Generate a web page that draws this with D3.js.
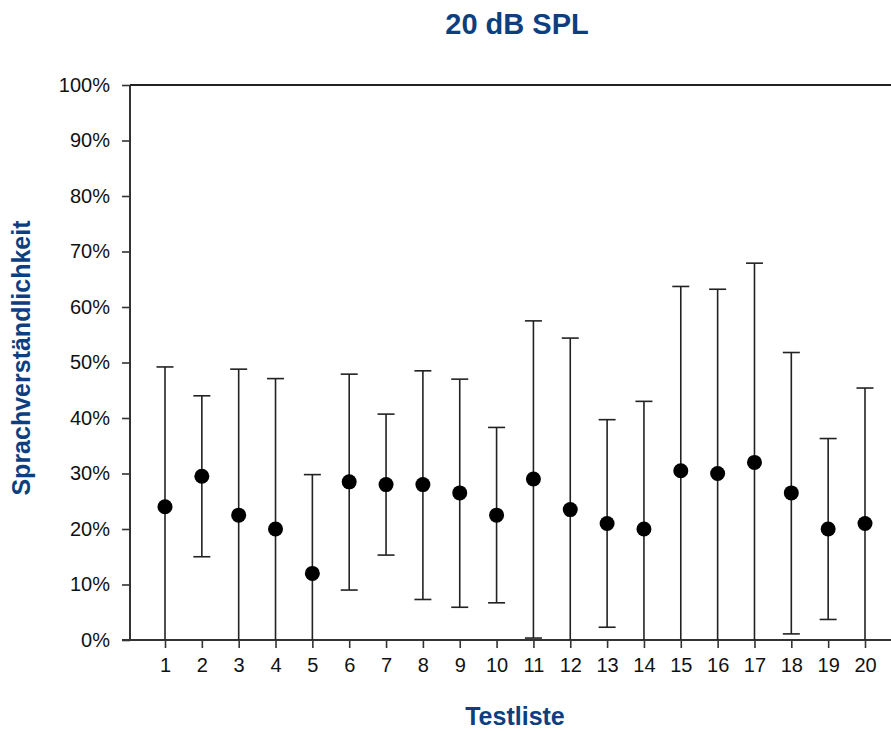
<!DOCTYPE html>
<html>
<head>
<meta charset="utf-8">
<script src="https://cdn.jsdelivr.net/npm/d3@7"></script>
<style>
  body { margin: 0; background: #fff; }
  svg { display: block; }
</style>
</head>
<body>
<div id="chart"></div>
<script>
// Testlisten 1..20, Mittelwert mit Fehlerbalken (untere / obere Grenze), in %
var lists = [1, 2, 3, 4, 5, 6, 7, 8, 9, 10, 11, 12, 13, 14, 15, 16, 17, 18, 19, 20];
var means = [24, 29.5, 22.5, 20, 12, 28.5, 28, 28, 26.5, 22.5, 29, 23.5, 21, 20, 30.5, 30, 32, 26.5, 20, 21];
var upper = [49.2, 44, 48.8, 47.1, 29.8, 47.9, 40.7, 48.5, 47, 38.3, 57.5, 54.4, 39.7, 43, 63.7, 63.2, 67.9, 51.8, 36.3, 45.4];
var lower = [0, 15, 0, 0, 0, 9, 15.3, 7.3, 5.9, 6.7, 0.35, 0, 2.3, 0, 0, 0, 0, 1.1, 3.7, 0];
var yTicks = [0, 10, 20, 30, 40, 50, 60, 70, 80, 90, 100];

var W = 891, H = 731;
var mLeft = 130, mTop = 85, mBottom = 640, mRight = 891;
var blue = "#0d3f80";

var svg = d3.select("#chart").append("svg")
    .attr("width", W)
    .attr("height", H)
    .style("font-family", "Liberation Sans, Arial, sans-serif");

var x = d3.scaleLinear().domain([1, 20]).range([165, 865]);
var y = d3.scaleLinear().domain([0, 100]).range([mBottom, mTop]);

var data = lists.map(function(d, i) {
  return { list: d, mean: means[i], lo: lower[i], hi: upper[i] };
});

// y axis
var yAxis = svg.append("g")
    .attr("transform", "translate(" + mLeft + ",0)")
    .call(d3.axisLeft(y).tickValues(yTicks).tickSize(8).tickPadding(12)
      .tickFormat(function(d) { return d + "%"; }));
yAxis.select(".domain").remove();
yAxis.selectAll("line").attr("stroke", "#333").attr("stroke-width", 1.6);
yAxis.selectAll("text").attr("font-size", 20).attr("fill", "#111");

// x axis
var xAxis = svg.append("g")
    .attr("transform", "translate(0," + mBottom + ")")
    .call(d3.axisBottom(x).tickValues(lists).tickSize(8).tickPadding(10)
      .tickFormat(d3.format("d")));
xAxis.select(".domain").remove();
xAxis.selectAll("line").attr("stroke", "#333").attr("stroke-width", 1.6);
xAxis.selectAll("text").attr("font-size", 20).attr("fill", "#111");

// frame lines
svg.append("line").attr("x1", mLeft).attr("x2", mLeft).attr("y1", mTop).attr("y2", mBottom)
    .attr("stroke", "#333").attr("stroke-width", 2);
svg.append("line").attr("x1", mLeft - 8).attr("x2", mRight).attr("y1", mBottom).attr("y2", mBottom)
    .attr("stroke", "#333").attr("stroke-width", 2);
svg.append("line").attr("x1", mLeft).attr("x2", mRight).attr("y1", mTop).attr("y2", mTop)
    .attr("stroke", "#222").attr("stroke-width", 2);

// error bars
var bars = svg.append("g").selectAll("g")
    .data(data)
    .enter()
    .append("g");

bars.append("line")
    .attr("x1", function(d) { return x(d.list); })
    .attr("x2", function(d) { return x(d.list); })
    .attr("y1", function(d) { return y(d.lo); })
    .attr("y2", function(d) { return y(d.hi); })
    .attr("stroke", "#222")
    .attr("stroke-width", 1.6);

bars.append("line")
    .attr("x1", function(d) { return x(d.list) - 8.5; })
    .attr("x2", function(d) { return x(d.list) + 8.5; })
    .attr("y1", function(d) { return y(d.hi); })
    .attr("y2", function(d) { return y(d.hi); })
    .attr("stroke", "#222")
    .attr("stroke-width", 1.6);

bars.filter(function(d) { return d.lo > 0; })
    .append("line")
    .attr("x1", function(d) { return x(d.list) - 8.5; })
    .attr("x2", function(d) { return x(d.list) + 8.5; })
    .attr("y1", function(d) { return y(d.lo); })
    .attr("y2", function(d) { return y(d.lo); })
    .attr("stroke", "#222")
    .attr("stroke-width", 1.6);

bars.append("circle")
    .attr("cx", function(d) { return x(d.list); })
    .attr("cy", function(d) { return y(d.mean); })
    .attr("r", 7.5)
    .attr("fill", "#000");

// titles
svg.append("text")
    .attr("x", 517).attr("y", 34)
    .attr("text-anchor", "middle")
    .attr("font-size", 29).attr("font-weight", "bold")
    .attr("fill", blue)
    .text("20 dB SPL");

svg.append("text")
    .attr("x", 515).attr("y", 725)
    .attr("text-anchor", "middle")
    .attr("font-size", 25).attr("font-weight", "bold")
    .attr("fill", blue)
    .text("Testliste");

svg.append("text")
    .attr("transform", "translate(30,358) rotate(-90)")
    .attr("text-anchor", "middle")
    .attr("font-size", 25).attr("font-weight", "bold")
    .attr("fill", blue)
    .text("Sprachverständlichkeit");
</script>
</body>
</html>
